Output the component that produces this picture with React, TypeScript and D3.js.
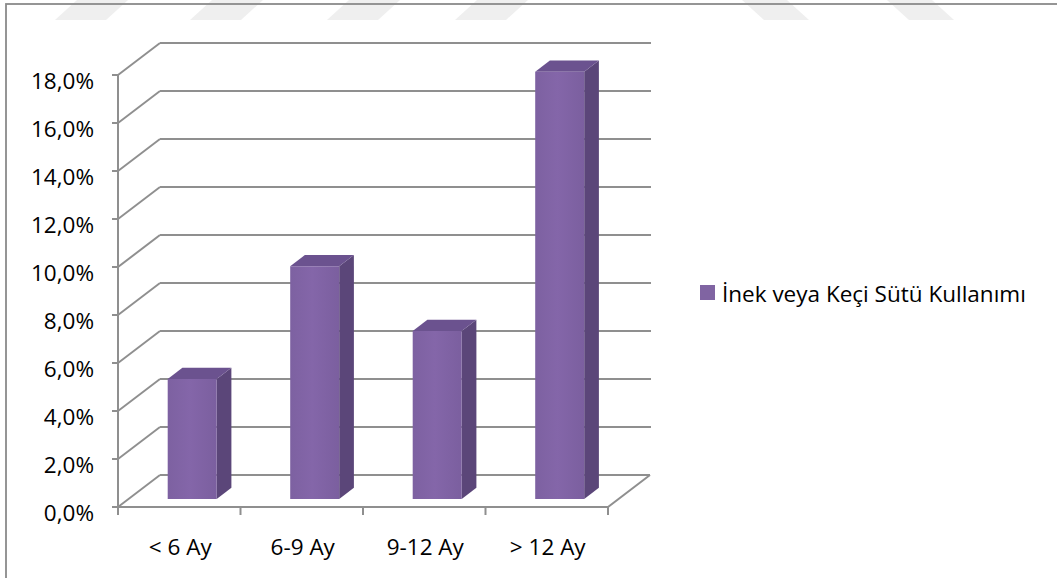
import React from "react";
import * as d3 from "d3";

// Age groups and the share of children given cow or goat milk
const categories = ["< 6 Ay", "6-9 Ay", "9-12 Ay", "> 12 Ay"];
const values = [5.0, 9.7, 7.0, 17.8];
const yTicks = [0, 2, 4, 6, 8, 10, 12, 14, 16, 18];
const seriesName = "İnek veya Keçi Sütü Kullanımı";

// faint slanted stripes along the top edge: [bottom-left x, lean]
const stripes: [number, number][] = [
  [55, 1],
  [190, 1],
  [327, 1],
  [455, 1],
  [742, -1],
  [887, -1],
];

const W = 1057;
const H = 578;
const FONT = "'Open Sans', 'Noto Sans', sans-serif";
const FS = 22.5;

export default function App() {
  const y = d3.scaleLinear().domain([0, 18]).range([507, 75]);
  const x = d3.scaleBand<string>().domain(categories).range([118, 608]);
  const bw = x.bandwidth();

  // oblique depth offset of the 3D plot box
  const DX = 42;
  const DY = -32;
  const proj = (px: number, py: number, z: number): [number, number] => [px + z * DX, py + z * DY];

  const zFront = 0.25;
  const zBack = 0.6;

  const grid = "#8f8f8f";
  const pt = (p: [number, number]) => `${p[0]},${p[1]}`;

  const x0 = x.range()[0];
  const x1 = x.range()[1];

  return (
    <div style={{ position: "fixed", left: 0, top: 0, width: W, height: H, background: "#fff" }}>
      <svg width={W} height={H} style={{ display: "block" }}>
        <defs>
          <linearGradient id="frontFace" x1="0" x2="1" y1="0" y2="0">
            <stop offset="0" stopColor="#7d61a1" />
            <stop offset="0.45" stopColor="#8466a9" />
            <stop offset="1" stopColor="#7b5f9f" />
          </linearGradient>
        </defs>
        <rect x={0} y={0} width={W} height={H} fill="#fff" />

        {stripes.map(([b, lean], i) => {
          const pts =
            lean > 0
              ? [[b + 22, 0], [b + 73, 0], [b + 51, 20], [b, 20]]
              : [[b, 0], [b + 45, 0], [b + 67, 20], [b + 22, 20]];
          return <polygon key={i} points={pts.map((p) => p.join(",")).join(" ")} fill="#efefef" />;
        })}

        {/* chart frame */}
        <rect x={6} y={4} width={1200} height={800} fill="none" stroke="#8a8a8a" strokeWidth={1.8} />

        {/* back wall and side wall gridlines */}
        {yTicks.map((t) => {
          const yf = y(t);
          const back = proj(x0, yf, 1);
          const backR = proj(x1 + (t === 0 ? 0 : 1), yf, 1);
          return (
            <g key={t} stroke={grid} strokeWidth={2} fill="none">
              <line x1={x0} y1={yf} x2={back[0]} y2={back[1]} />
              <line x1={back[0]} y1={back[1]} x2={backR[0]} y2={backR[1]} />
            </g>
          );
        })}

        {/* floor */}
        <polyline
          points={[pt([x0, y(0)]), pt([x1, y(0)]), pt(proj(x1, y(0), 1))].join(" ")}
          fill="none"
          stroke={grid}
          strokeWidth={2}
        />

        {/* value axis */}
        <line x1={x0} y1={y(18)} x2={x0} y2={y(0)} stroke={grid} strokeWidth={2} />
        {yTicks.map((t) => (
          <g key={t}>
            <line x1={x0 - 6} y1={y(t)} x2={x0} y2={y(t)} stroke={grid} strokeWidth={2} />
            <text x={94} y={y(t) + 14} textAnchor="end" fontFamily={FONT} fontSize={FS} fill="#000">
              {d3.format(".1f")(t).replace(".", ",") + "%"}
            </text>
          </g>
        ))}

        {/* category axis ticks and labels */}
        {[...categories.map((c) => x(c) as number), x1].map((v, i) => (
          <line key={i} x1={v} y1={y(0)} x2={v} y2={y(0) + 8} stroke={grid} strokeWidth={2} />
        ))}
        {categories.map((c) => (
          <text
            key={c}
            x={(x(c) as number) + bw / 2 + 1}
            y={555}
            textAnchor="middle"
            fontFamily={FONT}
            fontSize={FS}
            fill="#000"
          >
            {c}
          </text>
        ))}

        {/* 3D columns */}
        {categories.map((c, i) => {
          const left = (x(c) as number) + bw * 0.32;
          const right = left + bw * 0.4;
          const top = y(values[i]);
          const base = y(0);
          const fl = proj(left, top, zFront);
          const fr = proj(right, top, zFront);
          const frb = proj(right, base, zFront);
          const flb = proj(left, base, zFront);
          const bl = proj(left, top, zBack);
          const br = proj(right, top, zBack);
          const brb = proj(right, base, zBack);
          return (
            <g key={c}>
              <polygon points={[fr, br, brb, frb].map(pt).join(" ")} fill="#5b4679" />
              <polygon points={[fl, bl, br, fr].map(pt).join(" ")} fill="#6b528f" />
              <polygon points={[fl, fr, frb, flb].map(pt).join(" ")} fill="url(#frontFace)" />
            </g>
          );
        })}

        {/* legend */}
        <rect x={700} y={285} width={15} height={15} fill="#8064a2" />
        <text x={722} y={302} fontFamily={FONT} fontSize={FS} fill="#000">
          {seriesName}
        </text>
      </svg>
    </div>
  );
}
